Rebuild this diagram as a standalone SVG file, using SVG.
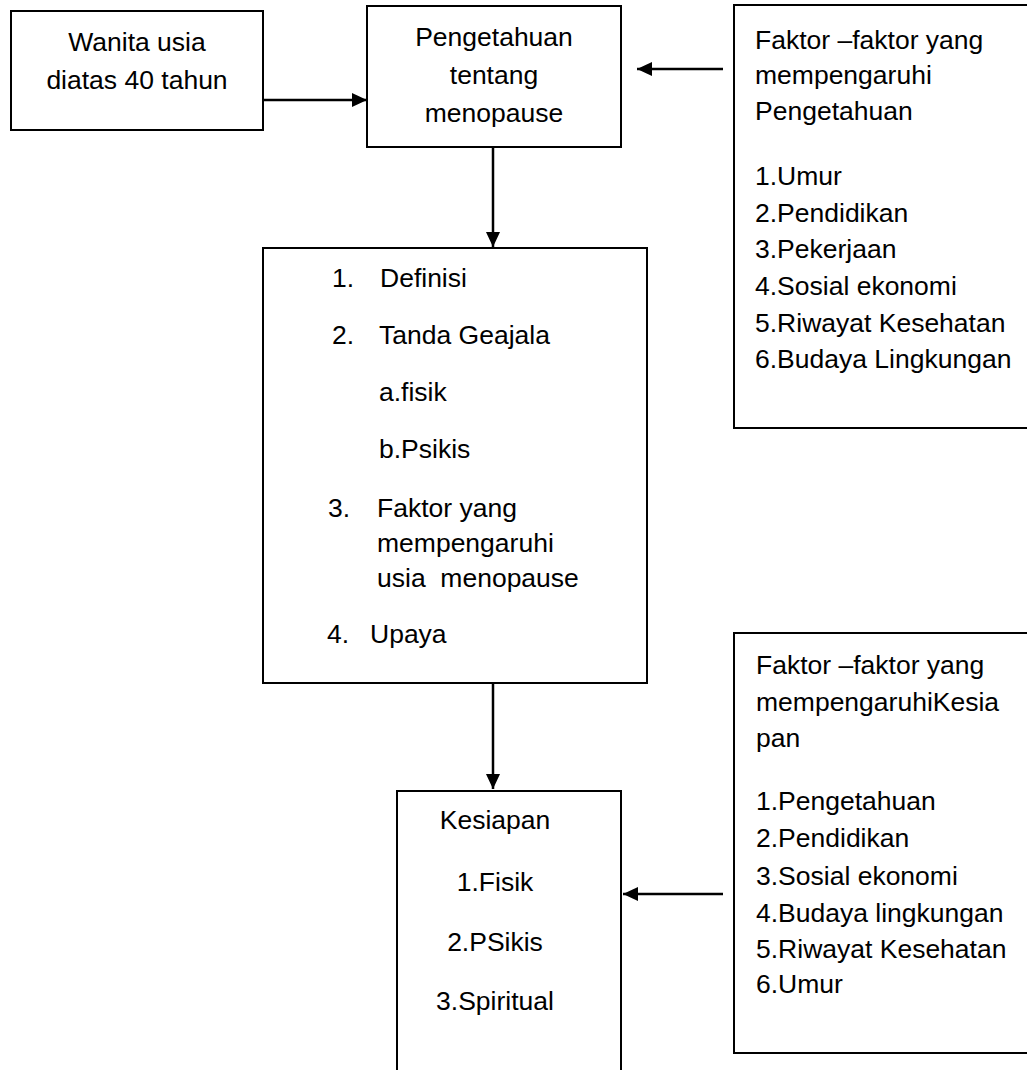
<svg xmlns="http://www.w3.org/2000/svg" width="1027" height="1070" viewBox="0 0 1027 1070">
<style>
.box{fill:#fff;stroke:#000;stroke-width:2}
text{font-family:"Liberation Sans",Arial,sans-serif;font-size:26.5px;fill:#000}
.c{text-anchor:middle}
.conn line{stroke:#000;stroke-width:2.5;fill:none}
</style>
<defs>
<marker id="ah" markerUnits="userSpaceOnUse" viewBox="0 0 15 14" refX="15" refY="7" markerWidth="15" markerHeight="14" orient="auto">
<path d="M0,0 L15,7 L0,14 z" fill="#000"/>
</marker>
</defs>
<rect width="1027" height="1070" fill="#fff"/>
<g id="wanita">
<rect class="box" x="11" y="11" width="252" height="119"/>
<text class="c" x="137" y="51">Wanita usia</text>
<text class="c" x="137" y="89">diatas 40 tahun</text>
</g>
<g id="pengetahuan">
<rect class="box" x="367" y="6" width="254" height="141"/>
<text class="c" x="494" y="46">Pengetahuan</text>
<text class="c" x="494" y="84">tentang</text>
<text class="c" x="494" y="122">menopause</text>
</g>
<g id="faktor-pengetahuan">
<rect class="box" x="734" y="5" width="310" height="423"/>
<text x="755" y="49">Faktor –faktor yang</text>
<text x="755" y="84">mempengaruhi</text>
<text x="755" y="120">Pengetahuan</text>
<text x="755" y="185">1.Umur</text>
<text x="755" y="222">2.Pendidikan</text>
<text x="755" y="258">3.Pekerjaan</text>
<text x="755" y="295">4.Sosial ekonomi</text>
<text x="755" y="332">5.Riwayat Kesehatan</text>
<text x="755" y="368">6.Budaya Lingkungan</text>
</g>
<g id="materi">
<rect class="box" x="263" y="248" width="384" height="435"/>
<text x="332" y="287">1.</text><text x="380" y="287">Definisi</text>
<text x="332" y="344">2.</text><text x="379" y="344">Tanda Geajala</text>
<text x="379" y="401">a.fisik</text>
<text x="379" y="458">b.Psikis</text>
<text x="328" y="517">3.</text><text x="377" y="517">Faktor yang</text>
<text x="377" y="552">mempengaruhi</text>
<text x="377" y="587" xml:space="preserve">usia  menopause</text>
<text x="327" y="643">4.</text><text x="370" y="643">Upaya</text>
</g>
<g id="kesiapan">
<rect class="box" x="397" y="791" width="224" height="300"/>
<text class="c" x="495" y="829">Kesiapan</text>
<text class="c" x="495" y="891">1.Fisik</text>
<text class="c" x="495" y="951">2.PSikis</text>
<text class="c" x="495" y="1010">3.Spiritual</text>
</g>
<g id="faktor-kesiapan">
<rect class="box" x="734" y="633" width="310" height="420"/>
<text x="756" y="674">Faktor –faktor yang</text>
<text x="756" y="711">mempengaruhiKesia</text>
<text x="756" y="747">pan</text>
<text x="756" y="810">1.Pengetahuan</text>
<text x="756" y="847">2.Pendidikan</text>
<text x="756" y="885">3.Sosial ekonomi</text>
<text x="756" y="922">4.Budaya lingkungan</text>
<text x="756" y="958">5.Riwayat Kesehatan</text>
<text x="756" y="993">6.Umur</text>
</g>
<g id="connectors" class="conn">
<line x1="263" y1="100" x2="367" y2="100" marker-end="url(#ah)"/>
<line x1="723" y1="69" x2="637" y2="69" marker-end="url(#ah)"/>
<line x1="493" y1="147" x2="493" y2="247" marker-end="url(#ah)"/>
<line x1="493" y1="683" x2="493" y2="789" marker-end="url(#ah)"/>
<line x1="723" y1="894" x2="623" y2="894" marker-end="url(#ah)"/>
</g>
</svg>
